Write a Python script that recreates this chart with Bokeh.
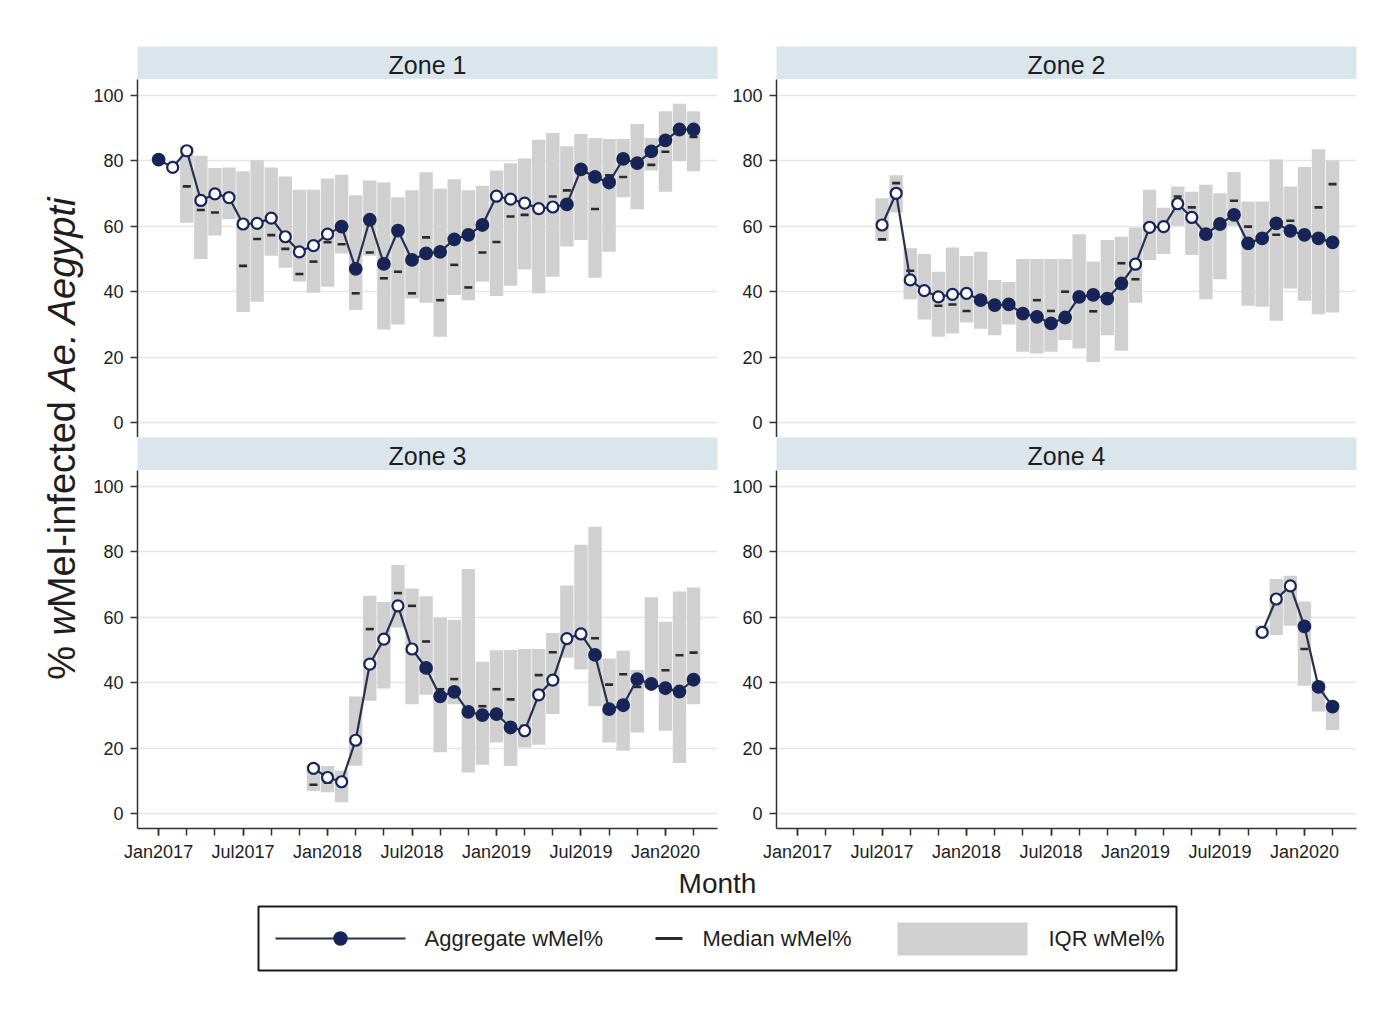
import math
from bokeh.plotting import figure
from bokeh.layouts import row, column
from bokeh.models import Range1d, FixedTicker
from bokeh.core.properties import value
from bokeh.embed import file_html
from bokeh.resources import INLINE

# ---------------- data ----------------
MONTH_TICKS = [0, 6, 12, 18, 24, 30, 36]
MONTH_LABELS = ["Jan2017", "Jul2017", "Jan2018", "Jul2018", "Jan2019", "Jul2019", "Jan2020"]
MINOR_MONTHS = list(range(0, 39, 2))
Y_TICKS = [0, 20, 40, 60, 80, 100]
ZONES = ["Zone 1", "Zone 2", "Zone 3", "Zone 4"]

# month index (0 = Jan2017) of the first value in each zone's lists
zone_start = [0, 6, 11, 33]

zone1_agg = [80.4, 78.0, 83.1, 67.9, 69.9, 68.8, 60.7, 60.9, 62.5, 56.8, 52.2, 54.1, 57.6, 59.9, 47.0, 62.0,
             48.5, 58.7, 49.7, 51.7, 52.2, 56.0, 57.4, 60.4, 69.2, 68.3, 67.1, 65.4, 65.9, 66.7, 77.4, 75.1,
             73.4, 80.6, 79.3, 82.9, 86.3, 89.6, 89.6]
zone1_open = [0, 1, 1, 1, 1, 1, 1, 1, 1, 1, 1, 1, 1, 0, 0, 0, 0, 0, 0, 0, 0, 0, 0, 0, 1, 1, 1, 1, 1,
              0, 0, 0, 0, 0, 0, 0, 0, 0, 0]
zone1_med = [None, None, 72.2, 65.0, 64.2, 68.0, 47.9, 56.1, 57.3, 53.1, 45.4, 49.2, 55.1, 54.5, 39.5, 52.0,
             44.1, 46.1, 39.5, 56.6, 37.4, 48.2, 41.3, 52.0, 55.2, 63.0, 63.5, 65.0, 69.1, 71.0, 77.0, 65.3,
             75.6, 75.1, 79.0, 78.8, 82.8, 89.0, 87.3]
zone1_q1 = [None, None, 61.1, 50.0, 57.2, 62.2, 33.8, 36.9, 51.0, 47.3, 43.1, 39.7, 41.5, 51.7, 34.4, 51.0,
            28.4, 30.0, 37.9, 36.6, 26.2, 39.0, 37.4, 43.1, 38.7, 41.8, 46.8, 39.5, 44.6, 53.8, 55.8, 44.3,
            52.2, 68.9, 65.2, 77.1, 70.6, 80.0, 76.8]
zone1_q3 = [None, None, 84.5, 81.6, 77.8, 78.0, 76.8, 80.2, 78.0, 75.2, 71.2, 71.2, 74.6, 75.8, 69.5, 74.0,
            73.4, 68.9, 71.0, 76.5, 71.5, 74.4, 71.0, 72.4, 77.1, 79.3, 80.7, 86.5, 88.5, 84.5, 88.2, 87.0,
            86.7, 86.7, 91.3, 87.0, 95.2, 97.5, 95.2]

zone2_agg = [60.4, 70.1, 43.6, 40.3, 38.4, 39.2, 39.5, 37.4, 35.9, 36.1, 33.3, 32.3, 30.3, 32.1, 38.4, 39.0,
             37.9, 42.5, 48.4, 59.7, 59.9, 66.9, 62.7, 57.6, 60.7, 63.5, 54.8, 56.3, 60.9, 58.6, 57.4, 56.3, 55.1]
zone2_open = [1, 1, 1, 1, 1, 1, 1, 0, 0, 0, 0, 0, 0, 0, 0, 0, 0, 0, 1, 1, 1, 1, 1,
              0, 0, 0, 0, 0, 0, 0, 0, 0, 0]
zone2_med = [56.0, 73.2, 46.4, 40.0, 35.7, 36.1, 34.1, 37.0, 36.0, 36.0, 34.0, 37.4, 34.1, 40.0, 38.5, 34.0,
             38.5, 48.7, 43.8, 59.0, 60.0, 69.1, 65.8, 57.5, 60.5, 67.8, 59.9, 56.5, 57.4, 61.7, 57.5, 65.8, 72.9]
zone2_q1 = [55.5, 64.2, 37.7, 31.5, 26.2, 27.2, 30.6, 28.7, 26.7, 30.0, 21.6, 21.1, 21.6, 25.2, 22.6, 18.5,
            26.7, 21.9, 36.6, 49.7, 51.5, 60.2, 51.2, 37.7, 43.8, 60.2, 35.7, 35.4, 31.1, 41.0, 37.2, 33.1, 33.6]
zone2_q3 = [68.6, 75.6, 53.3, 51.5, 46.1, 53.5, 50.9, 52.2, 43.6, 43.0, 50.0, 50.0, 50.0, 50.0, 57.6, 49.2,
            55.8, 56.8, 59.6, 71.2, 65.7, 72.2, 70.6, 72.7, 70.1, 76.6, 67.6, 67.6, 80.4, 72.2, 78.1, 83.6, 80.1]

zone3_agg = [13.8, 11.0, 9.7, 22.4, 45.7, 53.3, 63.5, 50.3, 44.5, 35.8, 37.2, 31.1, 30.1, 30.4, 26.3, 25.3,
             36.3, 40.8, 53.5, 54.9, 48.5, 31.9, 33.1, 41.1, 39.6, 38.3, 37.3, 40.9]
zone3_open = [1, 1, 1, 1, 1, 1, 1, 1, 0, 0, 0, 0, 0, 0, 0, 1, 1, 1, 1, 1, 0, 0, 0, 0, 0, 0, 0, 0]
zone3_med = [8.8, 9.5, 10.0, 22.0, 56.4, 53.0, 67.4, 63.5, 52.6, 38.0, 41.1, 31.0, 32.8, 38.0, 34.9, 26.8,
             42.3, 49.3, 53.5, 55.0, 53.6, 39.4, 42.6, 38.7, 39.6, 43.8, 48.4, 49.2]
zone3_q1 = [6.9, 6.5, 3.4, 14.6, 34.5, 38.2, 56.9, 33.4, 36.3, 18.7, 33.4, 12.5, 14.9, 21.7, 14.5, 20.2,
            21.0, 30.4, 47.6, 44.0, 32.8, 21.7, 19.2, 24.8, 38.3, 25.3, 15.4, 33.4]
zone3_q3 = [15.1, 14.5, 13.1, 35.8, 66.6, 64.7, 76.0, 68.8, 66.4, 59.9, 59.2, 74.8, 46.4, 49.9, 50.0, 50.3,
            50.3, 55.2, 69.7, 82.2, 87.7, 47.4, 49.8, 43.9, 66.1, 58.6, 67.9, 69.1]

zone4_agg = [55.4, 65.6, 69.6, 57.2, 38.7, 32.7]
zone4_open = [1, 1, 1, 0, 0, 0]
zone4_med = [55.5, 65.5, 69.5, 50.3, 38.5, 32.5]
zone4_q1 = [54.0, 54.6, 57.4, 39.1, 31.2, 25.5]
zone4_q3 = [57.5, 71.7, 72.7, 64.8, 40.6, 34.0]

LEGEND_LABELS = ["Aggregate wMel%", "Median wMel%", "IQR wMel%"]
Y_TITLE_PARTS = [("%", "normal"), ("w", "italic"), ("Mel-infected", "normal"), ("Ae. Aegypti", "italic")]
X_TITLE = "Month"

# ---------------- style ----------------
FONT = "Liberation Sans"
NAVY = "#15245a"
LINE_C = "#27304f"
BAR_C = "#d0d0d0"
MED_C = "#2a2a2a"
STRIP_C = "#dae6ec"
AXIS_C = "#333333"
GRID_C = "#e6e6e6"
TEXT_C = "#1e1e1e"

PANEL_W = 639
FRAME_H = 358
LEFT_B = 49
RIGHT_B = 10
XAXIS_B = 40
TOP_PAD = 46
YL_W = 88


def make_panel(start, agg, openflag, med, q1, q3, show_x):
    xs = list(range(start, start + len(agg)))
    kw = dict(
        width=PANEL_W, height=FRAME_H + (XAXIS_B if show_x else 0),
        x_range=Range1d(-1.5, 39.7), y_range=Range1d(-4.6, 104.9),
        output_backend="svg", toolbar_location=None,
        min_border_left=LEFT_B, min_border_right=RIGHT_B, min_border_top=0,
        min_border_bottom=XAXIS_B if show_x else 0,
        outline_line_color=None, background_fill_color="white", border_fill_color="white",
    )
    if not show_x:
        kw["x_axis_location"] = None
    p = figure(**kw)

    bx = [x for x, a, b in zip(xs, q1, q3) if a is not None and b is not None]
    blo = [a for a, b in zip(q1, q3) if a is not None and b is not None]
    bhi = [b for a, b in zip(q1, q3) if a is not None and b is not None]
    p.vbar(x=bx, bottom=blo, top=bhi, width=0.95, fill_color=BAR_C, line_color=None)

    mx = [x for x, m in zip(xs, med) if m is not None]
    my = [m for m in med if m is not None]
    p.scatter(mx, my, marker="dash", size=8, line_color=MED_C, line_width=2.6)

    p.line(xs, agg, line_color=LINE_C, line_width=2.2)
    fx = [x for x, o in zip(xs, openflag) if not o]
    fy = [a for a, o in zip(agg, openflag) if not o]
    hx = [x for x, o in zip(xs, openflag) if o]
    hy = [a for a, o in zip(agg, openflag) if o]
    p.scatter(fx, fy, marker="circle", size=12, fill_color=NAVY, line_color="#1b2650", line_width=1.8)
    p.scatter(hx, hy, marker="circle", size=11, fill_color="white", line_color=NAVY, line_width=2.2)

    p.xgrid.visible = False
    p.ygrid.ticker = FixedTicker(ticks=Y_TICKS)
    p.ygrid.grid_line_color = GRID_C
    p.ygrid.grid_line_width = 1.5

    ya = p.yaxis[0]
    ya.ticker = FixedTicker(ticks=Y_TICKS)
    ya.axis_line_color = AXIS_C
    ya.axis_line_width = 1.5
    ya.major_tick_line_color = AXIS_C
    ya.major_tick_line_width = 1.5
    ya.major_tick_out = 7
    ya.major_tick_in = 0
    ya.minor_tick_line_color = None
    ya.major_label_text_font = FONT
    ya.major_label_text_font_size = "18px"
    ya.major_label_text_color = TEXT_C
    ya.major_label_standoff = 7

    if show_x:
        xa = p.xaxis[0]
        xa.ticker = FixedTicker(ticks=MONTH_TICKS, minor_ticks=MINOR_MONTHS)
        xa.major_label_overrides = {t: l for t, l in zip(MONTH_TICKS, MONTH_LABELS)}
        xa.axis_line_color = AXIS_C
        xa.axis_line_width = 1.5
        xa.major_tick_line_color = AXIS_C
        xa.major_tick_line_width = 1.5
        xa.minor_tick_line_color = AXIS_C
        xa.minor_tick_line_width = 1.5
        xa.major_tick_out = 7
        xa.major_tick_in = 0
        xa.minor_tick_out = 7
        xa.minor_tick_in = 0
        xa.major_label_text_font = FONT
        xa.major_label_text_font_size = "18px"
        xa.major_label_text_color = TEXT_C
        xa.major_label_standoff = 6
    return p


def make_strip(label, top_pad):
    s = figure(width=PANEL_W, height=33 + top_pad, x_range=Range1d(0, 1), y_range=Range1d(0, 1),
               output_backend="svg", toolbar_location=None,
               min_border_left=LEFT_B, min_border_right=RIGHT_B, min_border_top=top_pad, min_border_bottom=0,
               outline_line_color=None, background_fill_color=STRIP_C, border_fill_color="white",
               x_axis_location=None, y_axis_location=None)
    s.grid.visible = False
    s.text(x=[0.5], y=[0.45], text=[label], text_align="center", text_baseline="middle",
           text_font=value(FONT), text_font_size="25px", text_color=TEXT_C)
    return s


data = [
    (zone1_agg, zone1_open, zone1_med, zone1_q1, zone1_q3),
    (zone2_agg, zone2_open, zone2_med, zone2_q1, zone2_q3),
    (zone3_agg, zone3_open, zone3_med, zone3_q1, zone3_q3),
    (zone4_agg, zone4_open, zone4_med, zone4_q1, zone4_q3),
]
panels = []
for i, d in enumerate(data):
    panels.append(make_panel(zone_start[i], *d, show_x=(i >= 2)))
strips = [make_strip(ZONES[i], TOP_PAD if i < 2 else 0) for i in range(4)]

grid = column(row(strips[0], strips[1]), row(panels[0], panels[1]),
              row(strips[2], strips[3]), row(panels[2], panels[3]))
GRID_H = 33 + TOP_PAD + FRAME_H + 33 + FRAME_H + XAXIS_B  # 868


def blank(w, h):
    f = figure(width=w, height=h, x_range=Range1d(0, w), y_range=Range1d(0, h),
               output_backend="svg", toolbar_location=None, min_border=0, min_border_left=0,
               min_border_right=0, min_border_top=0, min_border_bottom=0,
               outline_line_color=None, x_axis_location=None, y_axis_location=None)
    f.grid.visible = False
    return f


# y title (rotated, with italic parts)
yl = blank(YL_W, GRID_H)
F = 38.0
em_offsets = [0.0, 1.167, 1.889, 7.613]
total_em = 12.727
y_center = GRID_H - 437.5
y0 = y_center - total_em * F / 2
for (txt, style), off in zip(Y_TITLE_PARTS, em_offsets):
    yl.text(x=[61], y=[y0 + off * F], text=[txt], angle=math.pi / 2, text_align="left",
            text_baseline="middle", text_font=value(FONT), text_font_size=f"{F}px",
            text_font_style=style, text_color=TEXT_C)

# x title
XL_W = YL_W + 2 * PANEL_W
xl = blank(XL_W, 30)
xl.text(x=[717], y=[15], text=[X_TITLE], text_align="center", text_baseline="middle",
        text_font=value(FONT), text_font_size="28px", text_color=TEXT_C)

# legend
lg = blank(XL_W, 80)
lg.quad(left=[258], right=[1176], bottom=[8], top=[72], fill_color="white",
        line_color="#1a1a1a", line_width=2)
lg.line([275, 405], [40, 40], line_color=LINE_C, line_width=2.2)
lg.scatter([340], [40], marker="circle", size=13, fill_color=NAVY, line_color="#1b2650", line_width=1.5)
lg.segment(x0=[655], y0=[40], x1=[682], y1=[40], line_color=MED_C, line_width=3)
lg.quad(left=[897], right=[1027], bottom=[23], top=[56], fill_color=BAR_C, line_color=None)
for xpos, lab in zip([424, 702, 1048], LEGEND_LABELS):
    lg.text(x=[xpos], y=[40], text=[lab], text_align="left", text_baseline="middle",
            text_font=value(FONT), text_font_size="22px", text_color=TEXT_C)

root = column(row(yl, grid), xl, lg)
open("out.html", "w").write(file_html(root, INLINE, title="wMel"))
